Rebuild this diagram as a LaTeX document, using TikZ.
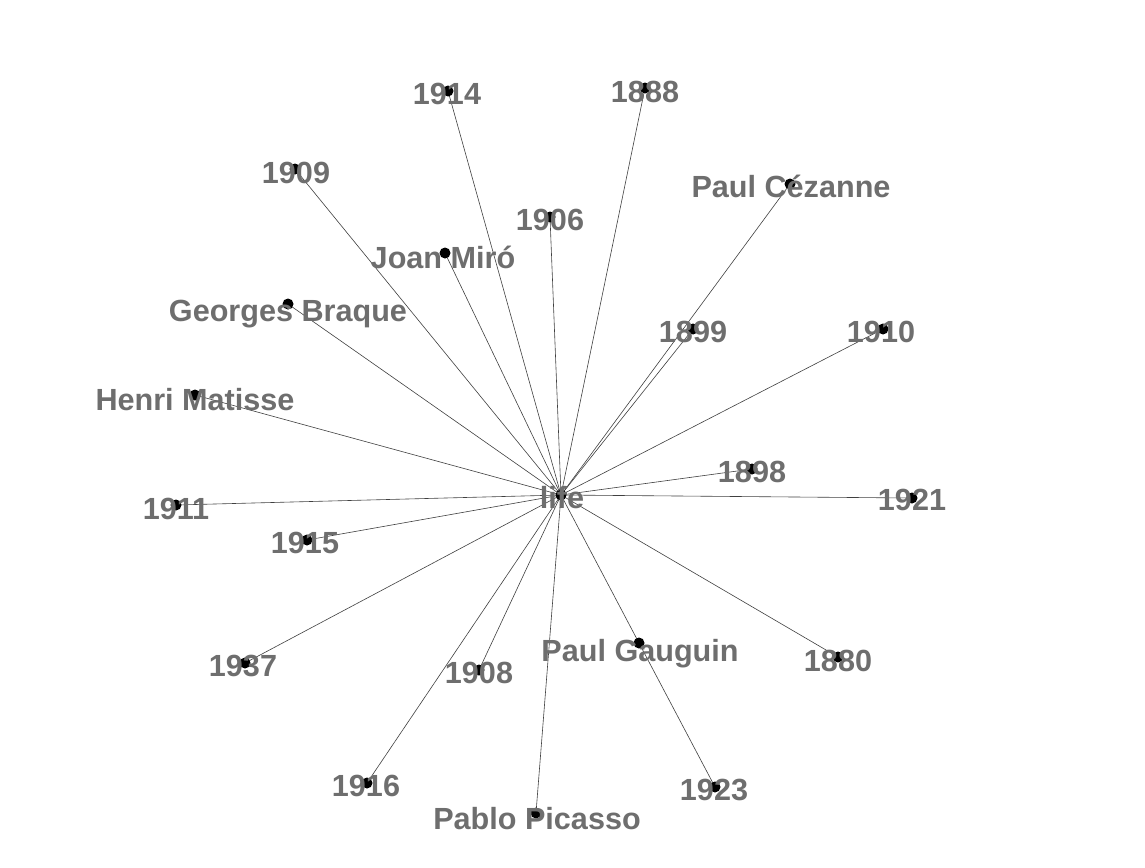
\documentclass[tikz,border=0pt]{standalone}
\usepackage{fontspec}
\setmainfont{Liberation Sans}
\begin{document}
\begin{tikzpicture}[x=1pt,y=-1pt,
  edge/.style={draw=black!75,line width=0.6pt},
  dot/.style={circle,fill=black,inner sep=0pt,minimum size=11pt},
  lbl/.style={anchor=base,inner sep=0pt,text=black!57,font=\fontsize{30.6}{36}\selectfont\bfseries}]
\useasboundingbox[fill=white] (0,0) rectangle (1145,867);
% positions
\coordinate (life) at (561,495);
\coordinate (c1914) at (448,91);
\coordinate (c1888) at (645,88);
\coordinate (c1909) at (295,169);
\coordinate (miro) at (445,253);
\coordinate (c1906) at (550,217);
\coordinate (cezanne) at (790,184);
\coordinate (braque) at (288,304);
\coordinate (c1899) at (693,329);
\coordinate (c1910) at (883,329);
\coordinate (matisse) at (195,395);
\coordinate (c1911) at (176,505);
\coordinate (c1915) at (307,540);
\coordinate (c1898) at (752,469);
\coordinate (c1921) at (912,498);
\coordinate (c1937) at (245,663);
\coordinate (c1908) at (479,670);
\coordinate (gauguin) at (639,643);
\coordinate (c1923) at (715,787);
\coordinate (c1880) at (838,657);
\coordinate (c1916) at (367,783);
\coordinate (picasso) at (536,813);
% edges
\foreach \n in {c1914,c1888,c1909,miro,c1906,cezanne,braque,c1899,c1910,matisse,c1911,c1915,c1898,c1921,c1937,c1908,gauguin,c1880,c1916,picasso}
  \draw[edge] (life) -- (\n);
\draw[edge] (gauguin) -- (c1923);
% dots
\foreach \n in {life,c1914,c1888,c1909,miro,c1906,cezanne,braque,c1899,c1910,matisse,c1911,c1915,c1898,c1921,c1937,c1908,gauguin,c1923,c1880,c1916,picasso}
  \node[dot] (d-\n) at (\n) {};
% labels
\node[lbl] (l-life) at (562,508) {life};
\node[lbl] (l1914) at (447,104) {1914};
\node[lbl] (l1888) at (645,102) {1888};
\node[lbl] (l1909) at (296,183) {1909};
\node[lbl] (lmiro) at (443,268) {Joan Miró};
\node[lbl] (l1906) at (550,230) {1906};
\node[lbl] (lcezanne) at (791,197) {Paul Cézanne};
\node[lbl] (lbraque) at (288,321) {Georges Braque};
\node[lbl] (l1899) at (693,342) {1899};
\node[lbl] (l1910) at (881,342) {1910};
\node[lbl] (lmatisse) at (195,410) {Henri Matisse};
\node[lbl] (l1911) at (176,519) {1911};
\node[lbl] (l1915) at (305,553) {1915};
\node[lbl] (l1898) at (752,482) {1898};
\node[lbl] (l1921) at (912,510) {1921};
\node[lbl] (l1937) at (243,676) {1937};
\node[lbl] (l1908) at (479,683) {1908};
\node[lbl] (lgauguin) at (640,661) {Paul Gauguin};
\node[lbl] (l1880) at (838,671) {1880};
\node[lbl] (l1916) at (366,796) {1916};
\node[lbl] (l1923) at (714,800) {1923};
\node[lbl] (lpicasso) at (537,829) {Pablo Picasso};
\end{tikzpicture}
\end{document}
